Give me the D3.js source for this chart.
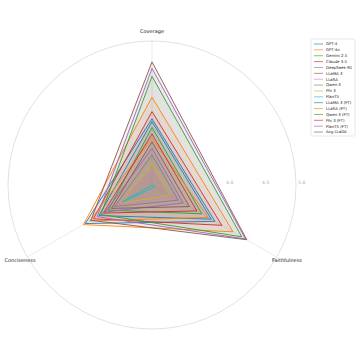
<!DOCTYPE html>
<html>
<head>
<meta charset="utf-8">
<script src="https://cdn.jsdelivr.net/npm/d3@7"></script>
<style>
  body { margin: 0; background: #fff; }
  svg { font-family: "DejaVu Sans", sans-serif; }
</style>
</head>
<body>
<svg width="360" height="360"></svg>
<script>
// axes (clockwise from top)
var axes = ["Coverage", "Faithfulness", "Conciseness"];

var models = ["GPT-4", "GPT-4o", "Gemini 2.5", "Claude 3.5", "DeepSeek-R1",
  "LLaMA 3", "LLaSA", "Qwen 3", "Phi 3", "FlanT5",
  "LLaMA 3 (FT)", "LLaSA (FT)", "Qwen 3 (FT)", "Phi 3 (FT)", "FlanT5 (FT)", "Avg LLaDA"];

// one value per model, per axis
var coverage     = [3.92, 4.22, 3.80, 4.02, 3.51, 3.60, 3.20, 3.42, 3.30, 3.00, 3.88, 3.65, 4.51, 3.71, 4.62, 4.71];
var faithfulness = [4.01, 4.30, 3.80, 4.12, 3.50, 3.60, 3.35, 3.42, 3.29, 3.05, 3.95, 3.90, 4.44, 3.72, 4.50, 4.52];
var conciseness  = [4.07, 4.10, 3.70, 3.94, 3.75, 3.65, 3.55, 3.60, 3.50, 3.48, 3.85, 4.00, 3.82, 3.78, 3.88, 3.98];

var rTicks = [4.0, 4.5, 5.0];

var svg = d3.select("svg");
var cx = 152, cy = 185, R = 144;

var r = d3.scaleLinear().domain([3, 5]).range([0, R]);
var angle = d3.scaleLinear().domain([0, axes.length]).range([0, 2 * Math.PI]);
var color = d3.scaleOrdinal().domain(d3.range(models.length)).range(d3.schemeCategory10.concat(d3.schemeCategory10));

var g = svg.append("g").attr("transform", "translate(" + cx + "," + cy + ")");

// outer circle
g.append("circle")
  .attr("r", r(5))
  .attr("fill", "none")
  .attr("stroke", "#d9d9d9")
  .attr("stroke-width", 0.8);

// spokes
g.selectAll(".spoke")
  .data(axes)
  .enter().append("line")
  .attr("class", "spoke")
  .attr("x1", 0).attr("y1", 0)
  .attr("x2", function(d, i) { return r(5) * Math.sin(angle(i)); })
  .attr("y2", function(d, i) { return -r(5) * Math.cos(angle(i)); })
  .attr("stroke", "#e6e6e6")
  .attr("stroke-width", 0.8);

// radial tick labels
g.selectAll(".rtick")
  .data(rTicks)
  .enter().append("text")
  .attr("class", "rtick")
  .attr("x", function(d) { return r(d) + 2; })
  .attr("y", -1.5)
  .attr("font-size", 4.6)
  .attr("fill", "#b0b0b0")
  .text(function(d) { return d.toFixed(1); });

// axis labels
var labelPos = [[0, -152], [135, 77], [-132, 77]];
g.selectAll(".alabel")
  .data(axes)
  .enter().append("text")
  .attr("class", "alabel")
  .attr("x", function(d, i) { return labelPos[i][0]; })
  .attr("y", function(d, i) { return labelPos[i][1]; })
  .attr("text-anchor", "middle")
  .attr("font-size", 5)
  .attr("fill", "#222")
  .text(function(d) { return d; });

var series = models.map(function(m, i) {
  return { name: m, i: i, values: [coverage[i], faithfulness[i], conciseness[i]] };
});

var radial = d3.lineRadial()
  .angle(function(d, j) { return angle(j); })
  .radius(function(d) { return r(d); })
  .curve(d3.curveLinearClosed);

g.selectAll(".fill")
  .data(series)
  .enter().append("path")
  .attr("class", "fill")
  .attr("d", function(d) { return radial(d.values); })
  .attr("fill", function(d) { return color(d.i); })
  .attr("fill-opacity", 0.07)
  .attr("stroke", "none");

g.selectAll(".outline")
  .data(series)
  .enter().append("path")
  .attr("class", "outline")
  .attr("d", function(d) { return radial(d.values); })
  .attr("fill", "none")
  .attr("stroke", function(d) { return color(d.i); })
  .attr("stroke-width", 0.9)
  .attr("stroke-linejoin", "miter");

// legend
var lx = 311, ly = 39, rowH = 5.87;
var legend = svg.append("g").attr("transform", "translate(" + lx + "," + ly + ")");
legend.append("rect")
  .attr("width", 44)
  .attr("height", 97)
  .attr("rx", 1.5)
  .attr("fill", "#fff")
  .attr("fill-opacity", 0.8)
  .attr("stroke", "#d6d6d6")
  .attr("stroke-width", 0.6);

var rows = legend.selectAll(".row")
  .data(series)
  .enter().append("g")
  .attr("class", "row")
  .attr("transform", function(d, i) { return "translate(0," + (5 + i * rowH) + ")"; });

rows.append("line")
  .attr("x1", 3).attr("x2", 12)
  .attr("stroke", function(d) { return color(d.i); })
  .attr("stroke-opacity", 0.7)
  .attr("stroke-width", 0.9);

rows.append("text")
  .attr("x", 15)
  .attr("y", 1.4)
  .attr("font-size", 3.9)
  .attr("fill", "#222")
  .text(function(d) { return d.name; });
</script>
</body>
</html>
